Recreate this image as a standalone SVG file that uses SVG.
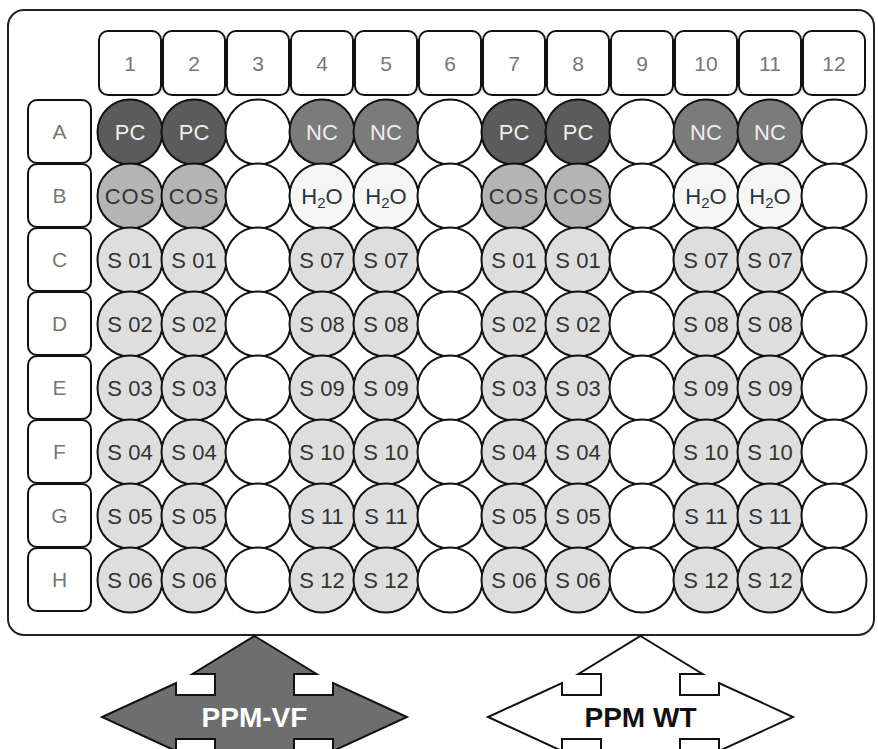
<svg xmlns="http://www.w3.org/2000/svg" width="878" height="749" viewBox="0 0 878 749">
<style>
.plate{fill:#fff;stroke:#222;stroke-width:2}
.hdr{fill:#fff;stroke:#111;stroke-width:2}
.htx{font-family:"Liberation Sans",Arial,sans-serif;font-size:21px;fill:#777;text-anchor:middle}
.w{stroke:#111;stroke-width:2}
.e{fill:#fff}
.pc{fill:#5b5b5b}
.nc{fill:#7b7b7b}
.cos{fill:#b4b4b4}
.h2o{fill:#f6f6f6}
.s{fill:#dedede}
.t{font-family:"Liberation Sans",Arial,sans-serif;font-size:22px;text-anchor:middle;fill:#333}
.tl{fill:#eee}
.arr{stroke:#111;stroke-width:2;stroke-linejoin:miter}
.at{font-family:"Liberation Sans",Arial,sans-serif;font-size:28px;font-weight:bold;text-anchor:middle}
</style>
<defs>
<path id="dbl" d="M0,-81 L62,-43 L39.5,-43 L39.5,-22 L78.5,-22 L78.5,-34 L152.5,0 L78.5,34 L78.5,22 L39.5,22 L39.5,43 L62,43 L0,81 L-62,43 L-39.5,43 L-39.5,22 L-78.5,22 L-78.5,34 L-152.5,0 L-78.5,-34 L-78.5,-22 L-39.5,-22 L-39.5,-43 L-62,-43 Z"/>
</defs>
<g id="plate"><rect class="plate" x="8" y="10" width="866" height="625" rx="16"/></g>
<g id="col-headers">
<g id="col1"><rect class="hdr" x="99" y="31" width="62" height="64" rx="9"/><text class="htx" x="130" y="71">1</text></g>
<g id="col2"><rect class="hdr" x="163" y="31" width="62" height="64" rx="9"/><text class="htx" x="194" y="71">2</text></g>
<g id="col3"><rect class="hdr" x="227" y="31" width="62" height="64" rx="9"/><text class="htx" x="258" y="71">3</text></g>
<g id="col4"><rect class="hdr" x="291" y="31" width="62" height="64" rx="9"/><text class="htx" x="322" y="71">4</text></g>
<g id="col5"><rect class="hdr" x="355" y="31" width="62" height="64" rx="9"/><text class="htx" x="386" y="71">5</text></g>
<g id="col6"><rect class="hdr" x="419" y="31" width="62" height="64" rx="9"/><text class="htx" x="450" y="71">6</text></g>
<g id="col7"><rect class="hdr" x="483" y="31" width="62" height="64" rx="9"/><text class="htx" x="514" y="71">7</text></g>
<g id="col8"><rect class="hdr" x="547" y="31" width="62" height="64" rx="9"/><text class="htx" x="578" y="71">8</text></g>
<g id="col9"><rect class="hdr" x="611" y="31" width="62" height="64" rx="9"/><text class="htx" x="642" y="71">9</text></g>
<g id="col10"><rect class="hdr" x="675" y="31" width="62" height="64" rx="9"/><text class="htx" x="706" y="71">10</text></g>
<g id="col11"><rect class="hdr" x="739" y="31" width="62" height="64" rx="9"/><text class="htx" x="770" y="71">11</text></g>
<g id="col12"><rect class="hdr" x="803" y="31" width="62" height="64" rx="9"/><text class="htx" x="834" y="71">12</text></g>
</g>
<g id="row-headers">
<g id="rowA"><rect class="hdr" x="28" y="100" width="63" height="63" rx="9"/><text class="htx" x="59.5" y="139">A</text></g>
<g id="rowB"><rect class="hdr" x="28" y="164" width="63" height="63" rx="9"/><text class="htx" x="59.5" y="203">B</text></g>
<g id="rowC"><rect class="hdr" x="28" y="228" width="63" height="63" rx="9"/><text class="htx" x="59.5" y="267">C</text></g>
<g id="rowD"><rect class="hdr" x="28" y="292" width="63" height="63" rx="9"/><text class="htx" x="59.5" y="331">D</text></g>
<g id="rowE"><rect class="hdr" x="28" y="356" width="63" height="63" rx="9"/><text class="htx" x="59.5" y="395">E</text></g>
<g id="rowF"><rect class="hdr" x="28" y="420" width="63" height="63" rx="9"/><text class="htx" x="59.5" y="459">F</text></g>
<g id="rowG"><rect class="hdr" x="28" y="484" width="63" height="63" rx="9"/><text class="htx" x="59.5" y="523">G</text></g>
<g id="rowH"><rect class="hdr" x="28" y="548" width="63" height="63" rx="9"/><text class="htx" x="59.5" y="587">H</text></g>
</g>
<g id="wells">
<!-- Row A -->
<g id="A1"><circle class="w pc" cx="130" cy="132" r="32.5"/><text class="t tl" x="130" y="140">PC</text></g>
<g id="A2"><circle class="w pc" cx="194" cy="132" r="32.5"/><text class="t tl" x="194" y="140">PC</text></g>
<g id="A3"><circle class="w e" cx="258" cy="132" r="32.5"/></g>
<g id="A4"><circle class="w nc" cx="322" cy="132" r="32.5"/><text class="t tl" x="322" y="140">NC</text></g>
<g id="A5"><circle class="w nc" cx="386" cy="132" r="32.5"/><text class="t tl" x="386" y="140">NC</text></g>
<g id="A6"><circle class="w e" cx="450" cy="132" r="32.5"/></g>
<g id="A7"><circle class="w pc" cx="514" cy="132" r="32.5"/><text class="t tl" x="514" y="140">PC</text></g>
<g id="A8"><circle class="w pc" cx="578" cy="132" r="32.5"/><text class="t tl" x="578" y="140">PC</text></g>
<g id="A9"><circle class="w e" cx="642" cy="132" r="32.5"/></g>
<g id="A10"><circle class="w nc" cx="706" cy="132" r="32.5"/><text class="t tl" x="706" y="140">NC</text></g>
<g id="A11"><circle class="w nc" cx="770" cy="132" r="32.5"/><text class="t tl" x="770" y="140">NC</text></g>
<g id="A12"><circle class="w e" cx="834" cy="132" r="32.5"/></g>
<!-- Row B -->
<g id="B1"><circle class="w cos" cx="130" cy="196" r="32.5"/><text class="t" x="130" y="204" letter-spacing="1">COS</text></g>
<g id="B2"><circle class="w cos" cx="194" cy="196" r="32.5"/><text class="t" x="194" y="204" letter-spacing="1">COS</text></g>
<g id="B3"><circle class="w e" cx="258" cy="196" r="32.5"/></g>
<g id="B4"><circle class="w h2o" cx="322" cy="196" r="32.5"/><text class="t" x="322" y="204">H<tspan font-size="15" dy="4">2</tspan><tspan dy="-4">O</tspan></text></g>
<g id="B5"><circle class="w h2o" cx="386" cy="196" r="32.5"/><text class="t" x="386" y="204">H<tspan font-size="15" dy="4">2</tspan><tspan dy="-4">O</tspan></text></g>
<g id="B6"><circle class="w e" cx="450" cy="196" r="32.5"/></g>
<g id="B7"><circle class="w cos" cx="514" cy="196" r="32.5"/><text class="t" x="514" y="204" letter-spacing="1">COS</text></g>
<g id="B8"><circle class="w cos" cx="578" cy="196" r="32.5"/><text class="t" x="578" y="204" letter-spacing="1">COS</text></g>
<g id="B9"><circle class="w e" cx="642" cy="196" r="32.5"/></g>
<g id="B10"><circle class="w h2o" cx="706" cy="196" r="32.5"/><text class="t" x="706" y="204">H<tspan font-size="15" dy="4">2</tspan><tspan dy="-4">O</tspan></text></g>
<g id="B11"><circle class="w h2o" cx="770" cy="196" r="32.5"/><text class="t" x="770" y="204">H<tspan font-size="15" dy="4">2</tspan><tspan dy="-4">O</tspan></text></g>
<g id="B12"><circle class="w e" cx="834" cy="196" r="32.5"/></g>
<!-- Row C -->
<g id="C1"><circle class="w s" cx="130" cy="260" r="32.5"/><text class="t" x="130" y="268">S 01</text></g>
<g id="C2"><circle class="w s" cx="194" cy="260" r="32.5"/><text class="t" x="194" y="268">S 01</text></g>
<g id="C3"><circle class="w e" cx="258" cy="260" r="32.5"/></g>
<g id="C4"><circle class="w s" cx="322" cy="260" r="32.5"/><text class="t" x="322" y="268">S 07</text></g>
<g id="C5"><circle class="w s" cx="386" cy="260" r="32.5"/><text class="t" x="386" y="268">S 07</text></g>
<g id="C6"><circle class="w e" cx="450" cy="260" r="32.5"/></g>
<g id="C7"><circle class="w s" cx="514" cy="260" r="32.5"/><text class="t" x="514" y="268">S 01</text></g>
<g id="C8"><circle class="w s" cx="578" cy="260" r="32.5"/><text class="t" x="578" y="268">S 01</text></g>
<g id="C9"><circle class="w e" cx="642" cy="260" r="32.5"/></g>
<g id="C10"><circle class="w s" cx="706" cy="260" r="32.5"/><text class="t" x="706" y="268">S 07</text></g>
<g id="C11"><circle class="w s" cx="770" cy="260" r="32.5"/><text class="t" x="770" y="268">S 07</text></g>
<g id="C12"><circle class="w e" cx="834" cy="260" r="32.5"/></g>
<!-- Row D -->
<g id="D1"><circle class="w s" cx="130" cy="324" r="32.5"/><text class="t" x="130" y="332">S 02</text></g>
<g id="D2"><circle class="w s" cx="194" cy="324" r="32.5"/><text class="t" x="194" y="332">S 02</text></g>
<g id="D3"><circle class="w e" cx="258" cy="324" r="32.5"/></g>
<g id="D4"><circle class="w s" cx="322" cy="324" r="32.5"/><text class="t" x="322" y="332">S 08</text></g>
<g id="D5"><circle class="w s" cx="386" cy="324" r="32.5"/><text class="t" x="386" y="332">S 08</text></g>
<g id="D6"><circle class="w e" cx="450" cy="324" r="32.5"/></g>
<g id="D7"><circle class="w s" cx="514" cy="324" r="32.5"/><text class="t" x="514" y="332">S 02</text></g>
<g id="D8"><circle class="w s" cx="578" cy="324" r="32.5"/><text class="t" x="578" y="332">S 02</text></g>
<g id="D9"><circle class="w e" cx="642" cy="324" r="32.5"/></g>
<g id="D10"><circle class="w s" cx="706" cy="324" r="32.5"/><text class="t" x="706" y="332">S 08</text></g>
<g id="D11"><circle class="w s" cx="770" cy="324" r="32.5"/><text class="t" x="770" y="332">S 08</text></g>
<g id="D12"><circle class="w e" cx="834" cy="324" r="32.5"/></g>
<!-- Row E -->
<g id="E1"><circle class="w s" cx="130" cy="388" r="32.5"/><text class="t" x="130" y="396">S 03</text></g>
<g id="E2"><circle class="w s" cx="194" cy="388" r="32.5"/><text class="t" x="194" y="396">S 03</text></g>
<g id="E3"><circle class="w e" cx="258" cy="388" r="32.5"/></g>
<g id="E4"><circle class="w s" cx="322" cy="388" r="32.5"/><text class="t" x="322" y="396">S 09</text></g>
<g id="E5"><circle class="w s" cx="386" cy="388" r="32.5"/><text class="t" x="386" y="396">S 09</text></g>
<g id="E6"><circle class="w e" cx="450" cy="388" r="32.5"/></g>
<g id="E7"><circle class="w s" cx="514" cy="388" r="32.5"/><text class="t" x="514" y="396">S 03</text></g>
<g id="E8"><circle class="w s" cx="578" cy="388" r="32.5"/><text class="t" x="578" y="396">S 03</text></g>
<g id="E9"><circle class="w e" cx="642" cy="388" r="32.5"/></g>
<g id="E10"><circle class="w s" cx="706" cy="388" r="32.5"/><text class="t" x="706" y="396">S 09</text></g>
<g id="E11"><circle class="w s" cx="770" cy="388" r="32.5"/><text class="t" x="770" y="396">S 09</text></g>
<g id="E12"><circle class="w e" cx="834" cy="388" r="32.5"/></g>
<!-- Row F -->
<g id="F1"><circle class="w s" cx="130" cy="452" r="32.5"/><text class="t" x="130" y="460">S 04</text></g>
<g id="F2"><circle class="w s" cx="194" cy="452" r="32.5"/><text class="t" x="194" y="460">S 04</text></g>
<g id="F3"><circle class="w e" cx="258" cy="452" r="32.5"/></g>
<g id="F4"><circle class="w s" cx="322" cy="452" r="32.5"/><text class="t" x="322" y="460">S 10</text></g>
<g id="F5"><circle class="w s" cx="386" cy="452" r="32.5"/><text class="t" x="386" y="460">S 10</text></g>
<g id="F6"><circle class="w e" cx="450" cy="452" r="32.5"/></g>
<g id="F7"><circle class="w s" cx="514" cy="452" r="32.5"/><text class="t" x="514" y="460">S 04</text></g>
<g id="F8"><circle class="w s" cx="578" cy="452" r="32.5"/><text class="t" x="578" y="460">S 04</text></g>
<g id="F9"><circle class="w e" cx="642" cy="452" r="32.5"/></g>
<g id="F10"><circle class="w s" cx="706" cy="452" r="32.5"/><text class="t" x="706" y="460">S 10</text></g>
<g id="F11"><circle class="w s" cx="770" cy="452" r="32.5"/><text class="t" x="770" y="460">S 10</text></g>
<g id="F12"><circle class="w e" cx="834" cy="452" r="32.5"/></g>
<!-- Row G -->
<g id="G1"><circle class="w s" cx="130" cy="516" r="32.5"/><text class="t" x="130" y="524">S 05</text></g>
<g id="G2"><circle class="w s" cx="194" cy="516" r="32.5"/><text class="t" x="194" y="524">S 05</text></g>
<g id="G3"><circle class="w e" cx="258" cy="516" r="32.5"/></g>
<g id="G4"><circle class="w s" cx="322" cy="516" r="32.5"/><text class="t" x="322" y="524">S 11</text></g>
<g id="G5"><circle class="w s" cx="386" cy="516" r="32.5"/><text class="t" x="386" y="524">S 11</text></g>
<g id="G6"><circle class="w e" cx="450" cy="516" r="32.5"/></g>
<g id="G7"><circle class="w s" cx="514" cy="516" r="32.5"/><text class="t" x="514" y="524">S 05</text></g>
<g id="G8"><circle class="w s" cx="578" cy="516" r="32.5"/><text class="t" x="578" y="524">S 05</text></g>
<g id="G9"><circle class="w e" cx="642" cy="516" r="32.5"/></g>
<g id="G10"><circle class="w s" cx="706" cy="516" r="32.5"/><text class="t" x="706" y="524">S 11</text></g>
<g id="G11"><circle class="w s" cx="770" cy="516" r="32.5"/><text class="t" x="770" y="524">S 11</text></g>
<g id="G12"><circle class="w e" cx="834" cy="516" r="32.5"/></g>
<!-- Row H -->
<g id="H1"><circle class="w s" cx="130" cy="580" r="32.5"/><text class="t" x="130" y="588">S 06</text></g>
<g id="H2"><circle class="w s" cx="194" cy="580" r="32.5"/><text class="t" x="194" y="588">S 06</text></g>
<g id="H3"><circle class="w e" cx="258" cy="580" r="32.5"/></g>
<g id="H4"><circle class="w s" cx="322" cy="580" r="32.5"/><text class="t" x="322" y="588">S 12</text></g>
<g id="H5"><circle class="w s" cx="386" cy="580" r="32.5"/><text class="t" x="386" y="588">S 12</text></g>
<g id="H6"><circle class="w e" cx="450" cy="580" r="32.5"/></g>
<g id="H7"><circle class="w s" cx="514" cy="580" r="32.5"/><text class="t" x="514" y="588">S 06</text></g>
<g id="H8"><circle class="w s" cx="578" cy="580" r="32.5"/><text class="t" x="578" y="588">S 06</text></g>
<g id="H9"><circle class="w e" cx="642" cy="580" r="32.5"/></g>
<g id="H10"><circle class="w s" cx="706" cy="580" r="32.5"/><text class="t" x="706" y="588">S 12</text></g>
<g id="H11"><circle class="w s" cx="770" cy="580" r="32.5"/><text class="t" x="770" y="588">S 12</text></g>
<g id="H12"><circle class="w e" cx="834" cy="580" r="32.5"/></g>
</g>
<g id="connectors">
<g id="ppm-vf"><use href="#dbl" class="arr" fill="#6e6e6e" transform="translate(254.5,717)"/><text class="at" x="254.5" y="727" fill="#fff">PPM-VF</text></g>
<g id="ppm-wt"><use href="#dbl" class="arr" fill="#fff" transform="translate(640.5,717)"/><text class="at" x="640.5" y="727" fill="#111">PPM WT</text></g>
</g>
</svg>
